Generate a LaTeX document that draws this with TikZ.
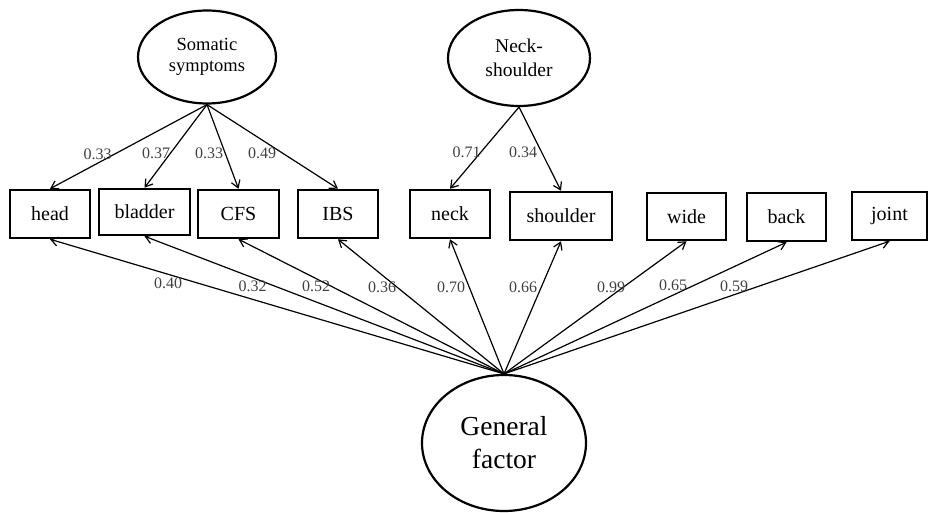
\documentclass[tikz,border=0pt]{standalone}
\usepackage{fontspec}
\setmainfont{Liberation Serif}
\usetikzlibrary{shapes.geometric,arrows.meta}

\begin{document}
\begin{tikzpicture}[x=1pt,y=-1pt,
    box/.style={draw, line width=2.5pt, inner sep=0pt, font=\fontsize{20}{22}\selectfont},
    latent/.style={draw, ellipse, line width=2.2pt, inner sep=0pt, align=center},
    arr/.style={-{Straight Barb[length=7pt,width=9pt]}, line width=1.2pt},
    num/.style={text=black!75, inner sep=0pt, font=\fontsize{16}{17}\selectfont}]
    \useasboundingbox (0,0) rectangle (935,513);

    % Draw the latent factors
    \node[latent, minimum width=138pt, minimum height=93pt, font=\fontsize{18.5}{21}\selectfont]
        (soma) at (207,57) {Somatic\\symptoms};
    \node[latent, minimum width=142pt, minimum height=96pt, font=\fontsize{19.5}{24}\selectfont]
        (necksh) at (519,58) {Neck-\\shoulder};
    \node[latent, minimum width=164pt, minimum height=136pt, font=\fontsize{27.5}{33}\selectfont]
        (gen) at (504,443) {General\\factor};

    % Draw the observed indicators
    \node[box, minimum width=80pt, minimum height=48pt] (head) at (50,214) {head};
    \node[box, minimum width=91pt, minimum height=46pt] (bladder) at (144.5,212) {bladder};
    \node[box, minimum width=81pt, minimum height=48pt] (CFS) at (238.5,214) {CFS};
    \node[box, minimum width=80pt, minimum height=48pt] (IBS) at (338,214) {IBS};
    \node[box, minimum width=80pt, minimum height=48pt] (neck) at (450,214) {neck};
    \node[box, minimum width=102pt, minimum height=48pt] (shoulder) at (561,216) {shoulder};
    \node[box, minimum width=79pt, minimum height=47pt] (wide) at (686.5,216.5) {wide};
    \node[box, minimum width=79pt, minimum height=48pt] (back) at (786.5,217) {back};
    \node[box, minimum width=75pt, minimum height=48pt] (joint) at (889.5,216) {joint};

    % Loadings of the specific factors
    \foreach \t/\lx/\ly/\v in {head/97.5/154/0.33, bladder/156/153/0.37,
                                CFS/209/153/0.33, IBS/262/153/0.49}
    {
        \draw[arr] (soma.south) -- (\t.north);
        \node[num] (s-\t) at (\lx,\ly) {\v};
    }
    \foreach \t/\lx/\ly/\v in {neck/466.5/152/0.71, shoulder/523/152/0.34}
    {
        \draw[arr] (necksh.south) -- (\t.north);
        \node[num] (n-\t) at (\lx,\ly) {\v};
    }

    % Loadings of the general factor
    \foreach \t/\lx/\ly/\v in {head/168/283/0.40, bladder/252.5/286/0.32,
                                CFS/316/286/0.52, IBS/382/287/0.36,
                                neck/451/287/0.70, shoulder/523/287/0.66,
                                wide/611/287/0.99, back/673/285/0.65,
                                joint/734/286/0.59}
    {
        \draw[arr] (gen.north) -- (\t.south);
        \node[num] (g-\t) at (\lx,\ly) {\v};
    }
\end{tikzpicture}
\end{document}
